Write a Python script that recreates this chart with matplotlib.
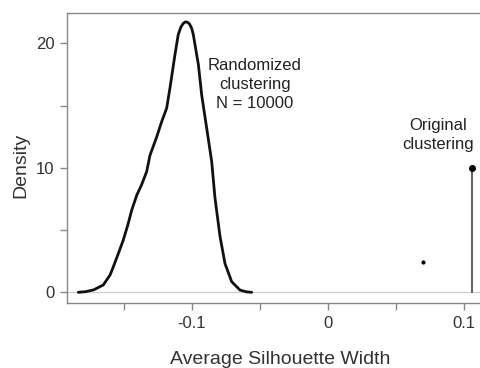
import matplotlib
matplotlib.use("Agg")
import matplotlib.pyplot as plt

plt.rcParams['font.family'] = ['Liberation Sans', 'DejaVu Sans']

# Density of randomized clustering silhouette widths (traced)
dens_x = [-0.1834, -0.1780, -0.1720, -0.1650, -0.1600, -0.1576, -0.1540, -0.1503,
          -0.1470, -0.1441, -0.1404, -0.1370, -0.1331, -0.1307, -0.1260, -0.1221,
          -0.1184, -0.1160, -0.1123, -0.1099, -0.1080, -0.1062, -0.1047, -0.1032,
          -0.1016, -0.1000, -0.0988, -0.0976, -0.0951, -0.0926, -0.0890, -0.0853,
          -0.0829, -0.0792, -0.0755, -0.0706, -0.0645, -0.0600, -0.0559]
dens_y = [0.0, 0.05, 0.2, 0.59, 1.4, 2.06, 3.1, 4.2,
          5.4, 6.6, 7.8, 8.6, 9.7, 11.0, 12.4, 13.7,
          14.8, 16.4, 19.1, 20.7, 21.3, 21.6, 21.72, 21.7,
          21.55, 21.2, 20.7, 19.9, 18.3, 15.8, 13.2, 10.5,
          7.6, 4.5, 2.3, 0.85, 0.18, 0.04, 0.0]

orig_x = 0.1059
orig_y = 10.0
stray_x = 0.0703
stray_y = 2.4

xticks = [-0.15, -0.1, -0.05, 0, 0.05, 0.1]
xticklabels = ['', '-0.1', '', '0', '', '0.1']
yticks = [0, 5, 10, 15, 20]
yticklabels = ['0', '', '10', '', '20']

fig = plt.figure(figsize=(4.8, 3.68), dpi=100)
ax = fig.add_axes([67/480, (368-303)/368, (480-67)/480, (303-12.7)/368])

ax.axhline(0, color='#d0d0d0', lw=1.0, zorder=1)
ax.plot(dens_x, dens_y, color='#111111', lw=2.0, zorder=3,
        solid_capstyle='round', solid_joinstyle='round')
ax.plot([orig_x, orig_x], [0, orig_y], color='#444444', lw=1.2, zorder=3)
ax.plot([orig_x], [orig_y], 'o', color='black', ms=4, zorder=4)
ax.plot([stray_x], [stray_y], 'o', color='black', ms=2, zorder=4)

ax.set_xlim(-0.1917, 0.112)
ax.set_ylim(-0.86, 22.46)
ax.set_xticks(xticks)
ax.set_xticklabels(xticklabels)
ax.set_yticks(yticks)
ax.set_yticklabels(yticklabels)

for s in ['left', 'bottom', 'top']:
    ax.spines[s].set_color('#888888')
    ax.spines[s].set_linewidth(1.0)
ax.spines['right'].set_visible(False)
ax.tick_params(colors='#888888', labelcolor='#333333', length=5, width=1.0,
               labelsize=12, pad=4)

ax.text(-0.0535, 16.7, 'Randomized\nclustering\nN = 10000', ha='center', va='center',
        fontsize=12, color='#222222', linespacing=1.3)
ax.text(0.0811, 12.63, 'Original\nclustering', ha='center', va='center',
        fontsize=12, color='#222222', linespacing=1.3)

fig.text(280/480, 1 - 359/368, 'Average Silhouette Width', ha='center', va='center',
         fontsize=14, color='#333333')
fig.text(21/480, 1 - 165/368, 'Density', ha='center', va='center', rotation=90,
         fontsize=14, color='#333333')

fig.savefig('out.png', dpi=100)
